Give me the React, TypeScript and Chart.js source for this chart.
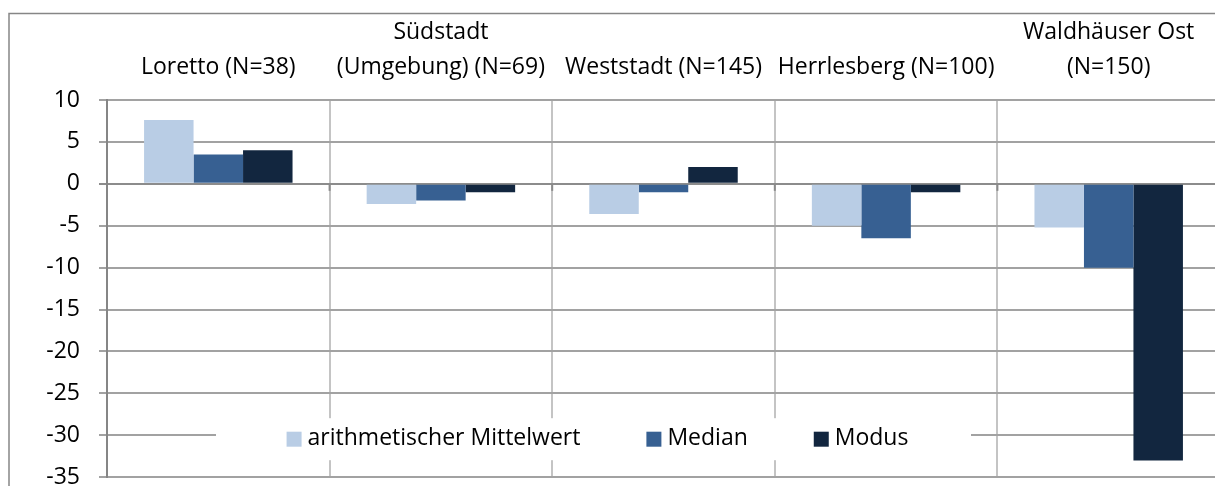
import React, { useEffect, useRef } from 'react';
import { Chart, registerables } from 'chart.js';

Chart.register(...registerables);

const categories: (string | string[])[] = [
  'Loretto (N=38)',
  ['Südstadt', '(Umgebung) (N=69)'],
  'Weststadt (N=145)',
  'Herrlesberg (N=100)',
  ['Waldhäuser Ost', '(N=150)'],
];
const seriesNames = ['arithmetischer Mittelwert', 'Median', 'Modus'];
const meanValues = [7.6, -2.4, -3.6, -5.0, -5.2];
const medianValues = [3.5, -2.0, -1.0, -6.5, -10.0];
const modeValues = [4.0, -1.0, 2.0, -1.0, -33.0];
const seriesColors = ['#B9CDE5', '#376092', '#12263F'];
const yMin = -35;
const yMax = 10;
const yStep = 5;

const FONT = '"Open Sans", "Noto Sans", sans-serif';
const FONT_SIZE = 23;

const framePlugin = {
  id: 'frame',
  beforeDraw(chart: any) {
    const ctx = chart.ctx;
    ctx.save();
    ctx.fillStyle = '#ffffff';
    ctx.fillRect(0, 0, chart.width, chart.height);
    ctx.strokeStyle = '#868686';
    ctx.lineWidth = 1.5;
    ctx.strokeRect(9, 13.5, chart.width + 50, chart.height + 50);
    ctx.restore();
  },
};

const zeroTicksPlugin = {
  id: 'zeroTicks',
  beforeDatasetsDraw(chart: any) {
    const ctx = chart.ctx;
    const xs = chart.scales.x;
    const ys = chart.scales.y;
    const y0 = ys.getPixelForValue(0);
    const n = chart.data.labels.length;
    const w = (xs.right - xs.left) / n;
    ctx.save();
    ctx.strokeStyle = '#8a8a8a';
    ctx.lineWidth = 2;
    for (let i = 1; i < n; i++) {
      const x = xs.left + i * w;
      ctx.beginPath();
      ctx.moveTo(x, y0);
      ctx.lineTo(x, y0 + 7);
      ctx.stroke();
    }
    ctx.restore();
  },
};

const insideLegendPlugin = {
  id: 'insideLegend',
  afterDraw(chart: any) {
    const o = chart.options.plugins.insideLegend;
    const ctx = chart.ctx;
    const ca = chart.chartArea;
    const bx = ca.left + o.offsetLeft;
    const by = ca.bottom - o.offsetBottom;
    ctx.save();
    ctx.fillStyle = '#ffffff';
    ctx.fillRect(bx, by, o.width, o.height);
    ctx.font = `${FONT_SIZE}px ${FONT}`;
    const items = chart.data.datasets.map((d: any) => ({
      label: d.label,
      color: d.backgroundColor,
      w: ctx.measureText(d.label).width,
    }));
    const total =
      items.reduce((s: number, it: any) => s + o.box + o.boxGap + it.w, 0) +
      o.itemGap * (items.length - 1);
    let x = bx + o.width / 2 - total / 2 + o.shiftX;
    const cy = by + o.height / 2;
    ctx.textBaseline = 'middle';
    ctx.textAlign = 'left';
    for (const it of items) {
      ctx.fillStyle = it.color;
      ctx.fillRect(x, cy - o.box / 2, o.box, o.box);
      x += o.box + o.boxGap;
      ctx.fillStyle = '#000000';
      ctx.fillText(it.label, x, cy - 1);
      x += it.w + o.itemGap;
    }
    ctx.restore();
  },
};

export default function App() {
  const ref = useRef<HTMLCanvasElement | null>(null);

  useEffect(() => {
    let chart: Chart | null = null;
    let cancelled = false;
    const make = () => {
      if (cancelled || !ref.current) return;
      const data = [meanValues, medianValues, modeValues];
      chart = new Chart(ref.current, {
        type: 'bar',
        data: {
          labels: categories,
          datasets: seriesNames.map((name, i) => ({
            label: name,
            data: data[i],
            backgroundColor: seriesColors[i],
            borderWidth: 0,
            barPercentage: 1,
            categoryPercentage: 0.667,
          })),
        },
        plugins: [framePlugin, zeroTicksPlugin, insideLegendPlugin],
        options: {
          responsive: false,
          animation: false,
          events: [],
          layout: { padding: { left: 0, top: 0, right: 10, bottom: 9 } },
          plugins: {
            legend: { display: false },
            tooltip: { enabled: false },
            title: { display: false },
            insideLegend: {
              offsetLeft: 109,
              offsetBottom: 59,
              width: 755,
              height: 42,
              box: 15,
              boxGap: 6,
              itemGap: 66,
              shiftX: 4,
            },
          } as any,
          scales: {
            x: {
              position: 'top',
              afterFit: (s: any) => {
                s.height = 100;
              },
              grid: {
                offset: true,
                drawTicks: false,
                color: '#c4c4c4',
                lineWidth: 2,
              },
              border: { display: false },
              ticks: {
                color: '#000000',
                padding: 15.5,
                maxRotation: 0,
                autoSkip: false,
                font: { family: FONT, size: FONT_SIZE, lineHeight: 1.5 },
              },
            },
            y: {
              min: yMin,
              max: yMax,
              afterFit: (s: any) => {
                s.width = 107;
              },
              ticks: {
                stepSize: yStep,
                color: '#000000',
                padding: 19,
                font: { family: FONT, size: FONT_SIZE },
              },
              grid: {
                color: (c: any) => (c.tick && c.tick.value === 0 ? '#8c8c8c' : '#a2a2a2'),
                lineWidth: 2,
                tickLength: 8,
                drawTicks: true,
              },
              border: { display: true, color: '#868686', width: 2 },
            },
          },
        },
      });
    };
    const fonts: any = (document as any).fonts;
    if (fonts && fonts.load) {
      fonts.load(`${FONT_SIZE}px "Open Sans"`).then(make, make);
    } else {
      make();
    }
    return () => {
      cancelled = true;
      if (chart) chart.destroy();
    };
  }, []);

  return (
    <div
      style={{
        position: 'fixed',
        left: 0,
        top: 0,
        width: 1215,
        height: 486,
        overflow: 'hidden',
        background: '#ffffff',
      }}
    >
      <canvas ref={ref} width={1230} height={510} style={{ display: 'block' }} />
    </div>
  );
}
